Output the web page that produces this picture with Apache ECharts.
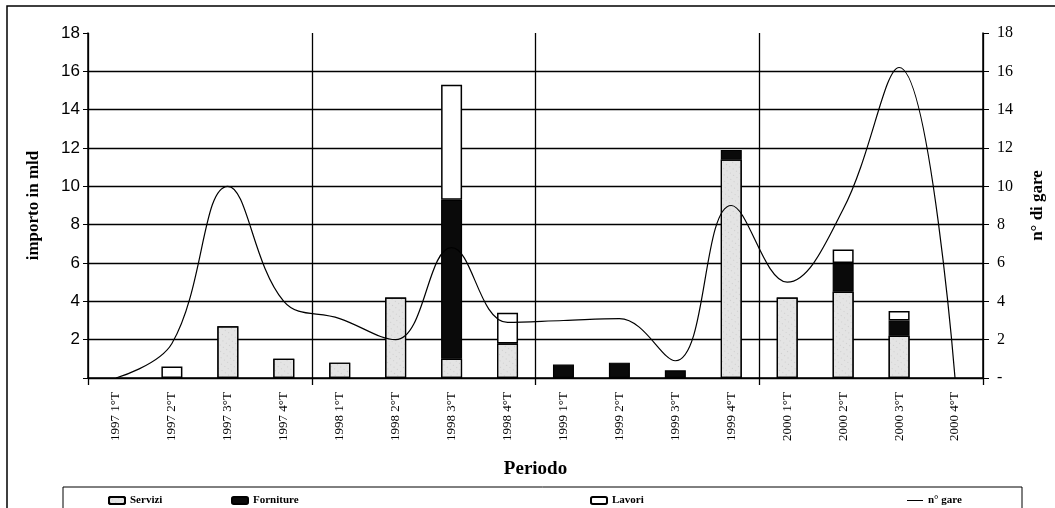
<!DOCTYPE html>
<html>
<head>
<meta charset="utf-8">
<script src="https://cdn.jsdelivr.net/npm/echarts@6/dist/echarts.min.js"></script>
<style>
  html, body { margin: 0; padding: 0; background: #fff; }
  #main { width: 1055px; height: 508px; }
</style>
</head>
<body>
<div id="main"></div>
<script>
// periodi (trimestri)
const periodi = ['1997 1°T', '1997 2°T', '1997 3°T', '1997 4°T',
  '1998 1°T', '1998 2°T', '1998 3°T', '1998 4°T',
  '1999 1°T', '1999 2°T', '1999 3°T', '1999 4°T',
  '2000 1°T', '2000 2°T', '2000 3°T', '2000 4°T'];
// importi in mld
const servizi   = [0, 0, 2.7, 1.0, 0.8, 4.2, 1.0, 1.8, 0, 0, 0, 11.4, 4.2, 4.5, 2.2, 0];
const forniture = [0, 0, 0, 0, 0, 0, 8.3, 0, 0.7, 0.8, 0.4, 0.5, 0, 1.5, 0.8, 0];
const lavori    = [0, 0.6, 0, 0, 0, 0, 6.0, 1.6, 0, 0, 0, 0, 0, 0.7, 0.5, 0];
// numero di gare
const nGare     = [0, 1.8, 10, 4, 3.1, 2, 6.8, 2.9, 3, 3.1, 0.9, 9, 5, 8.8, 16.2, 0];

const serif = 'Liberation Serif';
const noZero = arr => arr.map(v => v === 0 ? '-' : v);

const chart = echarts.init(document.getElementById('main'));

function legendAt(left, item, h) {
  return {
    data: [item],
    left: left,
    top: 490,
    itemWidth: 16,
    itemHeight: h || 7,
    textStyle: { fontFamily: serif, fontSize: 11, fontWeight: 'bold', color: '#000' },
    selectedMode: false
  };
}

chart.setOption({
  animation: false,
  backgroundColor: '#fff',
  graphic: [
    { type: 'rect', shape: { x: 7, y: 6, width: 1060, height: 520 },
      style: { fill: 'none', stroke: '#000', lineWidth: 1.5 }, silent: true },
    { type: 'rect', shape: { x: 63, y: 487, width: 959, height: 40 },
      style: { fill: 'none', stroke: '#000', lineWidth: 1 }, silent: true }
  ],
  legend: [
    legendAt(103, 'Servizi'),
    legendAt(226, 'Forniture'),
    legendAt(585, 'Lavori'),
    legendAt(902, { name: 'n° gare', icon: 'rect' }, 1)
  ],
  grid: { left: 88, right: 72, top: 33, bottom: 130 },
  xAxis: [{
    type: 'category',
    data: periodi,
    name: 'Periodo',
    nameLocation: 'middle',
    nameGap: 82,
    nameTextStyle: { fontFamily: serif, fontSize: 19, fontWeight: 'bold', color: '#000' },
    axisLine: { lineStyle: { color: '#000', width: 1.5 } },
    axisTick: { show: false },
    axisLabel: { rotate: 90, fontFamily: serif, fontSize: 13, color: '#000', margin: 14 }
  }, {
    // separatori degli anni
    type: 'value',
    min: 0, max: 16, interval: 4,
    position: 'bottom',
    axisLine: { show: false },
    axisTick: { show: true, inside: false, length: 7, lineStyle: { color: '#000', width: 1.3 } },
    axisLabel: { show: false },
    splitLine: { show: true, lineStyle: { color: '#000', width: 1.3 } }
  }],
  yAxis: [{
    type: 'value',
    min: 0, max: 18, interval: 2,
    name: 'importo in mld',
    nameLocation: 'middle',
    nameGap: 46,
    nameRotate: 90,
    nameTextStyle: { fontFamily: serif, fontSize: 17, fontWeight: 'bold', color: '#000' },
    axisLine: { show: true, lineStyle: { color: '#000', width: 1.5 } },
    axisTick: { show: true, inside: false, length: 5, lineStyle: { color: '#000' } },
    axisLabel: {
      fontFamily: 'Liberation Sans', fontSize: 17, color: '#000', margin: 8,
      formatter: v => v === 0 ? '' : v
    },
    splitLine: { show: true, showMaxLine: false, lineStyle: { color: '#000', width: 1.3 } }
  }, {
    type: 'value',
    min: 0, max: 18, interval: 2,
    position: 'right',
    name: 'n° di gare',
    nameLocation: 'middle',
    nameGap: 46,
    nameRotate: 90,
    nameTextStyle: { fontFamily: serif, fontSize: 17, fontWeight: 'bold', color: '#000' },
    axisLine: { show: true, lineStyle: { color: '#000', width: 1.5 } },
    axisTick: { show: true, length: 6, lineStyle: { color: '#000' } },
    axisLabel: {
      fontFamily: serif, fontSize: 16, color: '#000', margin: 14,
      formatter: v => v === 0 ? '-' : v
    },
    splitLine: { show: false }
  }],
  series: [{
    name: 'Servizi',
    type: 'bar',
    stack: 'importo',
    barWidth: 21,
    data: noZero(servizi),
    itemStyle: {
      color: '#e4e4e4', borderColor: '#000', borderWidth: 1.2,
      decal: {
        symbol: 'circle', symbolSize: 0.6, color: 'rgba(0,0,0,0.45)',
        dashArrayX: [1, 3], dashArrayY: [1, 4], rotation: 0.6
      }
    }
  }, {
    name: 'Forniture',
    type: 'bar',
    stack: 'importo',
    barWidth: 21,
    data: noZero(forniture),
    itemStyle: { color: '#0a0a0a', borderColor: '#000', borderWidth: 1.2 }
  }, {
    name: 'Lavori',
    type: 'bar',
    stack: 'importo',
    barWidth: 21,
    data: noZero(lavori),
    itemStyle: { color: '#fff', borderColor: '#000', borderWidth: 1.5 }
  }, {
    name: 'n° gare',
    type: 'line',
    yAxisIndex: 1,
    smooth: 0.4,
    symbol: 'none',
    data: nGare,
    lineStyle: { color: '#000', width: 1.2 },
    itemStyle: { color: '#000' },
    z: 5
  }]
});
</script>
</body>
</html>
